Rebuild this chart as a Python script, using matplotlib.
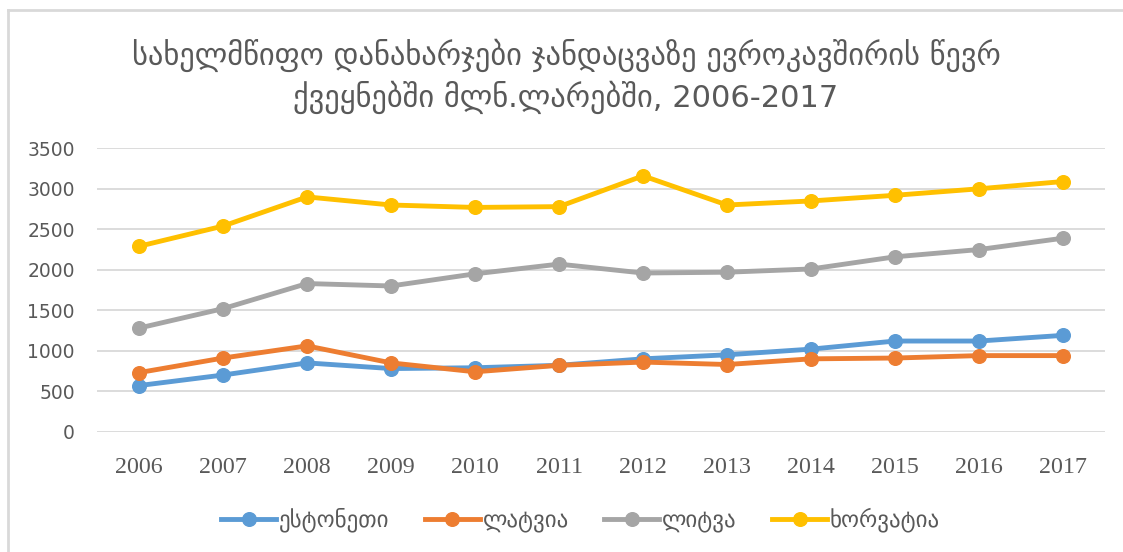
import matplotlib
matplotlib.use("Agg")
import matplotlib.pyplot as plt
from matplotlib.lines import Line2D

years = ["2006", "2007", "2008", "2009", "2010", "2011",
         "2012", "2013", "2014", "2015", "2016", "2017"]

estonia = [570, 700, 850, 780, 790, 820, 900, 950, 1020, 1120, 1120, 1190]
latvia = [730, 910, 1060, 850, 740, 820, 860, 830, 900, 910, 940, 940]
lithuania = [1280, 1520, 1830, 1800, 1950, 2070, 1960, 1970, 2010, 2160, 2250, 2390]
croatia = [2290, 2540, 2900, 2800, 2770, 2780, 3160, 2800, 2850, 2920, 3000, 3090]

series = [
    ("ესტონეთი", estonia, "#5B9BD5"),
    ("ლატვია", latvia, "#ED7D31"),
    ("ლიტვა", lithuania, "#A5A5A5"),
    ("ხორვატია", croatia, "#FFC000"),
]

title = ("სახელმწიფო დანახარჯები ჯანდაცვაზე ევროკავშირის წევრ\n"
         "ქვეყნებში მლნ.ლარებში, 2006-2017")

text_color = "#595959"
grid_color = "#D9D9D9"

fig = plt.figure(figsize=(11.23, 5.52), dpi=100)
ax = fig.add_axes([0.0864, 0.2179, 0.8976, 0.5134])

x = list(range(len(years)))
for name, vals, col in series:
    ax.plot(x, vals, color=col, lw=3.5, marker="o", markersize=9.8,
            label=name, solid_capstyle="round")

ax.set_xlim(-0.5, len(years) - 0.5)
ax.set_ylim(0, 3500)
ax.set_yticks(range(0, 3501, 500))
ax.set_xticks(x)
ax.set_xticklabels(years, family="Liberation Serif", fontsize=17.3, color=text_color)
for lab in ax.get_yticklabels():
    lab.set_family("DejaVu Sans")
    lab.set_fontsize(13.5)
    lab.set_color(text_color)

ax.grid(axis="y", color=grid_color, lw=1.3)
ax.set_axisbelow(True)
for s in ax.spines.values():
    s.set_visible(False)
ax.tick_params(length=0)
ax.tick_params(axis="y", pad=16)
ax.tick_params(axis="x", pad=18)

fig.text(0.504, 0.862, title, ha="center", va="center", fontsize=22,
         color=text_color, family="DejaVu Sans", linespacing=1.3)

handles = [Line2D([], [], color=c, lw=3.5, marker="o", markersize=9.8)
           for _, _, c in series]
fig.legend(handles, [n for n, _, _ in series], loc="center",
           bbox_to_anchor=(0.517, 0.058), ncol=4, frameon=False,
           prop={"family": "DejaVu Sans", "size": 16.5}, labelcolor=text_color,
           handlelength=2.4, handletextpad=0.12, columnspacing=1.55)

# outer frame: only the left and top edges show
fig.add_artist(Line2D([0.0071, 0.0071], [0, 0.982], color=grid_color, lw=2,
                      transform=fig.transFigure))
fig.add_artist(Line2D([0.0071, 1], [0.982, 0.982], color=grid_color, lw=2,
                      transform=fig.transFigure))

fig.savefig("out.png", dpi=100, facecolor="white")
